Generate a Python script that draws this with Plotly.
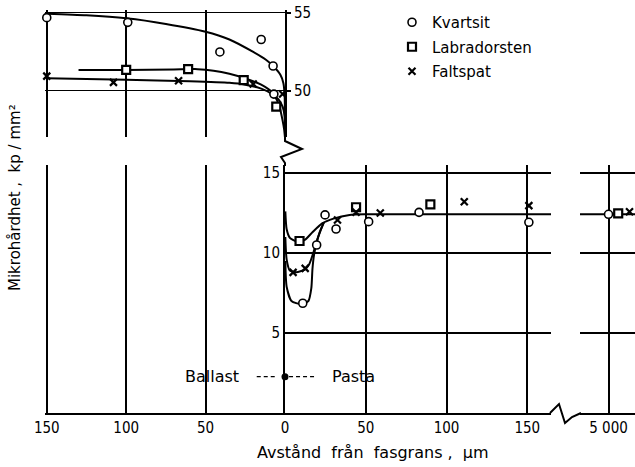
import plotly.graph_objects as go

W, H = 635, 467

# ---- data: microhardness (kp/mm²) vs distance from the phase boundary (µm) ----
# Aggregate side ("Ballast"), distances measured away from the boundary
kv_ballast_x = [150, 99, 41, 15, 7.5, 7]
kv_ballast_y = [54.7, 54.4, 52.5, 53.3, 51.6, 49.8]
lab_ballast_x = [100, 61, 26, 5.5]
lab_ballast_y = [51.35, 51.4, 50.7, 49.0]
fs_ballast_x = [150, 108, 67, 20, 1.5]
fs_ballast_y = [50.95, 50.55, 50.65, 50.45, 49.8]

# fitted curves, aggregate side
kv_ballast_fit_x = [150, 125, 100, 75, 50, 35, 20, 12, 7, 3, 1, 0.2, 0]
kv_ballast_fit_y = [54.95, 54.85, 54.66, 54.3, 53.8, 53.3, 52.5, 52.0, 51.55, 51.05, 50.5, 49.6, 47.3]
lab_ballast_fit_x = [130, 100, 70, 55, 45, 35, 25, 15, 8, 5, 3, 1.5, 0.5, 0]
lab_ballast_fit_y = [51.35, 51.35, 51.38, 51.4, 51.3, 51.1, 50.8, 50.4, 49.9, 49.4, 48.8, 48.1, 47.5, 47.0]
fs_ballast_fit_x = [150, 100, 60, 35, 25, 15, 8, 4, 1.5, 0.3, 0]
fs_ballast_fit_y = [50.82, 50.72, 50.62, 50.52, 50.4, 50.15, 49.8, 49.45, 49.0, 48.4, 47.5]

# Paste side ("Pasta")
kv_pasta_x = [11, 19.6, 24.8, 31.6, 51.8, 83, 151]
kv_pasta_y = [6.86, 10.5, 12.38, 11.5, 11.96, 12.54, 11.92]
lab_pasta_x = [9, 44, 90]
lab_pasta_y = [10.75, 12.86, 13.04]
fs_pasta_x = [5, 12.5, 32.5, 44, 59, 111, 151]
fs_pasta_y = [8.79, 9.04, 12.06, 12.55, 12.5, 13.2, 12.96]

# fitted curves, paste side
lab_pasta_fit_x = [0.2, 1, 3, 7, 12, 17, 23, 30, 40, 50, 100, 165]
lab_pasta_fit_y = [12.6, 11.5, 10.95, 10.72, 10.8, 11.3, 11.85, 12.15, 12.38, 12.42, 12.42, 12.42]
fs_pasta_fit_x = [0.2, 1, 3, 7, 12, 15, 17.5, 19.5, 22, 24]
fs_pasta_fit_y = [11.0, 9.6, 8.9, 8.8, 8.95, 9.3, 10.0, 10.7, 11.4, 11.9]
kv_pasta_fit_x = [0.2, 1, 4, 10, 14.5, 16.3, 17, 18, 19.5, 21.5, 24]
kv_pasta_fit_y = [9.5, 7.9, 7.0, 6.8, 7.0, 7.8, 9.0, 9.9, 10.6, 11.3, 11.9]

# far from the boundary (5000 µm)
far_x = [5000, 5006, 5013]
kv_far_y = [12.42]
lab_far_y = [12.48]
fs_far_y = [12.58]
far_fit_x = [4980, 5017]
far_fit_y = [12.42, 12.42]

# tick labels
ballast_ticks = [150, 100, 50, 0]
pasta_ticks = [50, 100, 150]
far_ticks = [5000]
far_ticktext = ["5 000"]
top_yticks = [50, 55]
low_yticks = [5, 10, 15]


def fx(px):
    return px / W


def fy(py):
    return 1 - py / H


INK = "black"
FONT = "DejaVu Sans"
NUMFONT = "DejaVu Sans Condensed, DejaVu Sans"

marker_styles = {
    "Kvartsit": dict(symbol="circle", size=8, color="white", line=dict(color=INK, width=1.6)),
    "Labradorsten": dict(symbol="square", size=8, color="white", line=dict(color=INK, width=2.2)),
    "Faltspat": dict(symbol="x-thin", size=7, color=INK, line=dict(color=INK, width=2.2)),
}

fig = go.Figure()
line_style = dict(color=INK, width=2, shape="spline", smoothing=0.6)


def add_curve(x, y, xa, ya):
    fig.add_trace(go.Scatter(x=x, y=y, mode="lines", line=line_style, xaxis=xa, yaxis=ya,
                             showlegend=False, hoverinfo="skip"))


def add_points(x, y, name, xa, ya, legend):
    fig.add_trace(go.Scatter(x=x, y=y, mode="markers", name=name, marker=marker_styles[name],
                             xaxis=xa, yaxis=ya, cliponaxis=False, legendgroup=name,
                             showlegend=legend))


# aggregate side
add_curve(kv_ballast_fit_x, kv_ballast_fit_y, "x", "y")
add_curve(lab_ballast_fit_x, lab_ballast_fit_y, "x", "y")
add_curve(fs_ballast_fit_x, fs_ballast_fit_y, "x", "y")
add_points(kv_ballast_x, kv_ballast_y, "Kvartsit", "x", "y", True)
add_points(lab_ballast_x, lab_ballast_y, "Labradorsten", "x", "y", True)
add_points(fs_ballast_x, fs_ballast_y, "Faltspat", "x", "y", True)

# paste side
add_curve(lab_pasta_fit_x, lab_pasta_fit_y, "x2", "y2")
add_curve(fs_pasta_fit_x, fs_pasta_fit_y, "x2", "y2")
add_curve(kv_pasta_fit_x, kv_pasta_fit_y, "x2", "y2")
add_points(kv_pasta_x, kv_pasta_y, "Kvartsit", "x2", "y2", False)
add_points(lab_pasta_x, lab_pasta_y, "Labradorsten", "x2", "y2", False)
add_points(fs_pasta_x, fs_pasta_y, "Faltspat", "x2", "y2", False)

# far field
add_curve(far_fit_x, far_fit_y, "x3", "y2")
add_points(far_x[0:1], kv_far_y, "Kvartsit", "x3", "y2", False)
add_points(far_x[1:2], lab_far_y, "Labradorsten", "x3", "y2", False)
add_points(far_x[2:3], fs_far_y, "Faltspat", "x3", "y2", False)

# Ballast <-> Pasta marker
label_y = 2.27
fig.add_trace(go.Scatter(x=[17.8, 5.2], y=[label_y, label_y], mode="lines",
                         line=dict(color=INK, width=1.2, dash="4px,3px"),
                         xaxis="x4", yaxis="y3", showlegend=False, hoverinfo="skip"))
fig.add_trace(go.Scatter(x=[2.5, 18.6], y=[label_y, label_y], mode="lines",
                         line=dict(color=INK, width=1.2, dash="4px,3px"),
                         xaxis="x2", yaxis="y2", showlegend=False, hoverinfo="skip"))
fig.add_trace(go.Scatter(x=[0], y=[label_y], mode="markers", cliponaxis=False,
                         marker=dict(symbol="circle", size=7, color=INK),
                         xaxis="x4", yaxis="y3", showlegend=False, hoverinfo="skip"))


# axis-break marks
def path(points):
    return "M " + " L ".join(f"{fx(a):.5f},{fy(b):.5f}" for a, b in points)


shapes = [
    dict(type="path", xref="paper", yref="paper",
         path=path([(285, 136), (285, 141), (302, 149), (281, 157), (285, 163), (285, 166)]),
         line=dict(color=INK, width=2)),
    dict(type="path", xref="paper", yref="paper",
         path=path([(550, 413), (559, 404), (565, 423), (572, 417), (581, 413)]),
         line=dict(color=INK, width=2)),
]

tickfont = dict(family=NUMFONT, size=15, color=INK)
common = dict(zeroline=False, gridcolor=INK, linecolor=INK, ticks="", tickfont=tickfont,
              fixedrange=True, automargin=False)

y_low = [0, 15.5]
fig.update_layout(
    width=W, height=H, margin=dict(l=0, r=0, t=0, b=0, pad=0, autoexpand=False),
    paper_bgcolor="white", plot_bgcolor="white",
    showlegend=True,
    xaxis=dict(domain=[fx(45.1), fx(285)], range=[151.05, 0], anchor="y",
               tickvals=[150, 100, 50], showticklabels=False, showline=False,
               showgrid=True, gridwidth=1.5, **common),
    yaxis=dict(domain=[fy(137), fy(10)], range=[47.05, 55.19], anchor="x", side="right",
               tickvals=top_yticks, showline=True, linewidth=2, showgrid=True, gridwidth=1.3,
               **{k: v for k, v in common.items() if k != "ticks"},
               ticks="outside", ticklen=4, tickwidth=2, tickcolor=INK),
    xaxis2=dict(domain=[fx(285), fx(551)], range=[0, 164.7], anchor="y2",
                tickvals=pasta_ticks, showline=True, linewidth=2, showgrid=True, gridwidth=1.5,
                **common),
    yaxis2=dict(domain=[fy(413), fy(165)], range=y_low, anchor="x2", side="left",
                tickvals=low_yticks, showline=True, linewidth=2, showgrid=True, gridwidth=1.5,
                **common),
    xaxis3=dict(domain=[fx(580), 1], range=[4982.35, 5016.4], anchor="y2",
                tickvals=far_ticks, ticktext=far_ticktext, showline=True, linewidth=2,
                showgrid=True, gridwidth=1.5, **common),
    xaxis4=dict(domain=[fx(45.1), fx(285)], range=[151.05, 0], anchor="y3",
                tickvals=ballast_ticks, showline=True, linewidth=2, showgrid=True, gridwidth=1.5,
                **common),
    yaxis3=dict(domain=[fy(413), fy(165)], range=y_low, anchor="x4", visible=False,
                fixedrange=True),
    legend=dict(x=fx(392), y=fy(6), xanchor="left", yanchor="top",
                font=dict(family=FONT, size=15, color=INK), bgcolor="rgba(0,0,0,0)",
                traceorder="grouped", tracegroupgap=2, itemclick=False),
    shapes=shapes,
    annotations=[
        dict(text="Mikrohårdhet ,  kp / mm²", textangle=-90, x=fx(15), y=fy(198),
             xref="paper", yref="paper", xanchor="center", yanchor="middle", showarrow=False,
             font=dict(family=FONT, size=15, color=INK)),
        dict(text="Avstånd  från  fasgrans ,  µm", x=fx(373), y=fy(452),
             xref="paper", yref="paper", xanchor="center", yanchor="middle", showarrow=False,
             font=dict(family=FONT, size=16, color=INK)),
        dict(text="Ballast", x=46, y=label_y, xref="x4", yref="y3", showarrow=False,
             xanchor="center", yanchor="middle",
             font=dict(family=FONT, size=16, color=INK)),
        dict(text="Pasta", x=42.3, y=label_y, xref="x2", yref="y2", showarrow=False,
             xanchor="center", yanchor="middle",
             font=dict(family=FONT, size=16, color=INK)),
    ],
)

fig.write_html("out.html")
